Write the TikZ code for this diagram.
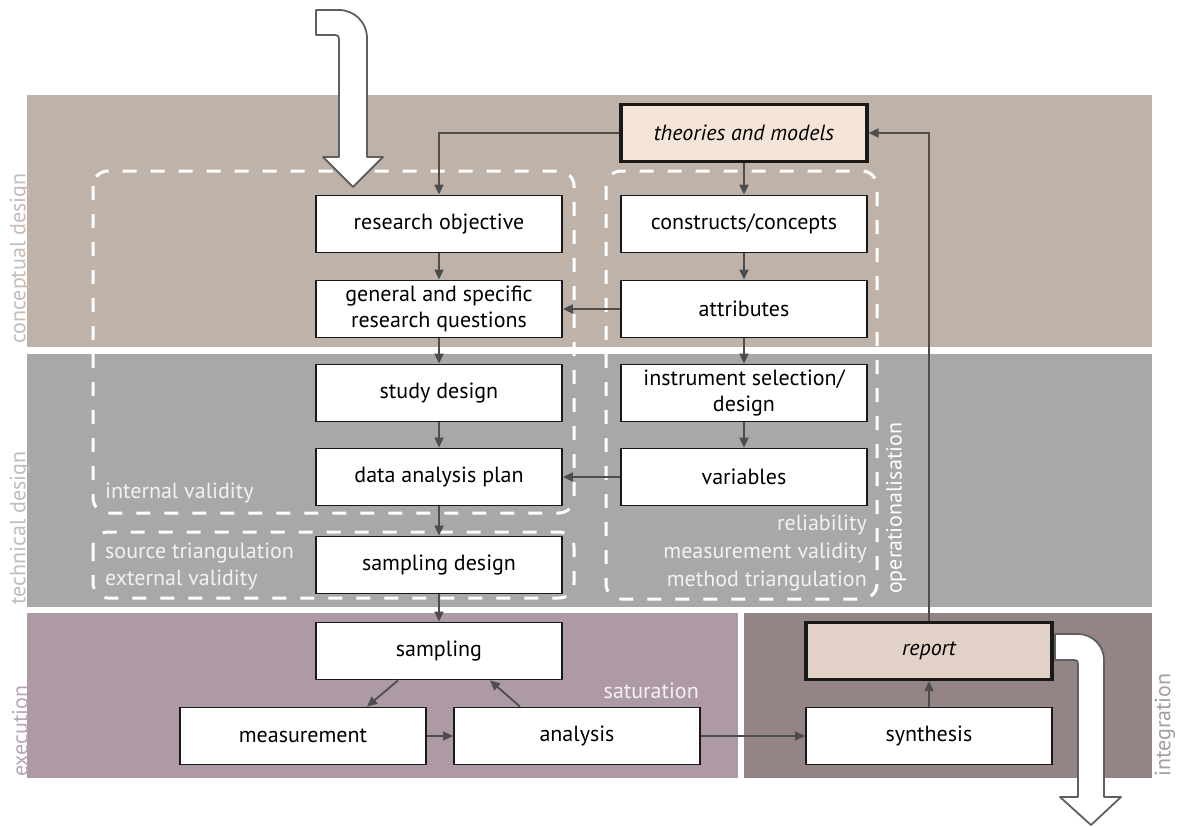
\documentclass[tikz,border=0pt]{standalone}
\usepackage{fontspec}
\setmainfont{PT Sans}
\usetikzlibrary{arrows.meta,calc,positioning}
\definecolor{bandConcept} {HTML}{BFB2A9}
\definecolor{bandTech}    {HTML}{A8A8A8}
\definecolor{bandExec}    {HTML}{AE9AA6}
\definecolor{bandInteg}   {HTML}{948483}
\definecolor{txtConcept}  {HTML}{C7BBB2}
\definecolor{txtTech}     {HTML}{BDBDBD}
\definecolor{txtExec}     {HTML}{B8A6B1}
\definecolor{txtInteg}    {HTML}{A99C9C}
\definecolor{theoryFill}  {HTML}{F5E5D8}
\definecolor{reportFill}  {HTML}{E2D1C6}
\definecolor{lineGray}    {HTML}{4D4D4D}
\definecolor{noteWhite}   {HTML}{F2F2F2}
\tikzset{
  font=\fontsize{22}{26.5}\selectfont,
  arrow/.style={-{Triangle[length=10pt,width=9pt]},draw=lineGray,line width=1.8pt},
  box/.style={rectangle,draw=black!90,line width=1.8pt,fill=white,
    minimum width=246pt,minimum height=57pt,align=center,inner sep=2pt},
  keybox/.style={box,line width=3.2pt,font=\fontsize{22}{26.5}\selectfont\itshape},
  zone/.style={draw=white,line width=3pt,dash pattern=on 14pt off 14pt,rounded corners=15pt},
  bandlabel/.style={rotate=90,anchor=west,inner sep=0pt},
  note/.style={text=noteWhite,inner sep=0pt},
  bigarrow/.style={draw=lineGray!90,line width=1.8pt,fill=white,line join=round},
}

\begin{document}
\begin{tikzpicture}[x=1pt,y=-1pt]

\useasboundingbox (0,0) rectangle (1187,827);

\fill[bandConcept] (27,95) rectangle (1152,347);
\fill[bandTech] (27,354) rectangle (1152,607);
\fill[bandExec] (27,613) rectangle (738,778);
\fill[bandInteg] (744,613) rectangle (1152,778);

\node[bandlabel,text=txtConcept] (lblConcept) at (20,344) {conceptual design};
\node[bandlabel,text=txtTech] (lblTech) at (20,605) {technical design};
\node[bandlabel,text=txtExec] (lblExec) at (20,777) {execution};
\node[bandlabel,text=txtInteg] (lblInteg) at (1165,777) {integration};

\draw[zone] (93,171) rectangle (574,513);
\draw[zone] (93,532) rectangle (574,598);
\draw[zone] (606,171) rectangle (877,599);

\node[note,anchor=west] (internal) at (105,493) {internal validity};
\node[note,anchor=west,align=left,font=\fontsize{22}{27}\selectfont] (external) at (105,566)
  {source triangulation\\external validity};
\node[note,anchor=east,align=right,font=\fontsize{22}{28}\selectfont] (reliab) at (867,553)
  {reliability\\measurement validity\\method triangulation};
\node[bandlabel,text=white] (oper) at (896,594) {operationalisation};
\node[note,anchor=east] (satur) at (699,691) {saturation};

\node[keybox,fill=theoryFill] (theories) at (744,133) {theories and models};

\node[box] (resobj) at (439,224) {research objective};
\node[box] (general) at (439,309) {general and specific\\research questions};
\node[box] (study) at (439,393) {study design};
\node[box] (dap) at (439,477) {data analysis plan};
\node[box] (sampdesign) at (439,565) {sampling design};

\node[box] (constructs) at (744,224) {constructs/concepts};
\node[box] (attributes) at (744,309) {attributes};
\node[box] (instrument) at (744,393) {instrument selection/\\design};
\node[box] (variables) at (744,477) {variables};

\node[box] (sampling) at (439,651) {sampling};
\node[box] (measurement) at (303,736) {measurement};
\node[box] (analysis) at (577,736) {analysis};

\node[box] (synthesis) at (929,736) {synthesis};
\node[keybox,fill=reportFill] (report) at (929,651) {report};

\draw[arrow] (theories.west) -| (resobj.north);
\draw[arrow] (theories.south) -- (constructs.north);
\draw[arrow] (resobj.south) -- (general.north);
\draw[arrow] (constructs.south) -- (attributes.north);
\draw[arrow] (attributes.west) -- (general.east);
\draw[arrow] (general.south) -- (study.north);
\draw[arrow] (attributes.south) -- (instrument.north);
\draw[arrow] (study.south) -- (dap.north);
\draw[arrow] (instrument.south) -- (variables.north);
\draw[arrow] (variables.west) -- (dap.east);
\draw[arrow] (dap.south) -- (sampdesign.north);
\draw[arrow] (sampdesign.south) -- (sampling.north);
\draw[arrow] ([xshift=-41pt]sampling.south) -- ([xshift=64pt]measurement.north);
\draw[arrow] ([xshift=-57pt]analysis.north) -- ([xshift=51pt]sampling.south);
\draw[arrow] (measurement.east) -- (analysis.west);
\draw[arrow] (analysis.east) -- (synthesis.west);
\draw[arrow] (synthesis.north) -- (report.south);
\draw[arrow] (report.north) |- (theories.east);

\draw[bigarrow] (316,10) -- (339,10) .. controls (354.5,10) and (367,22.5) .. (367,38)
  -- (367,157) -- (383,157) -- (353,187) -- (323,157) -- (339,157)
  -- (339,39) .. controls (339,36.5) and (338,35) .. (335.5,35) -- (316,35) -- cycle;

\draw[bigarrow] (1055,634) -- (1078,634) .. controls (1092.4,634) and (1104,645.6) .. (1104,660)
  -- (1104,797) -- (1121,797) -- (1091,825) -- (1060,797) -- (1078,797)
  -- (1078,664) .. controls (1078,661.5) and (1077,660) .. (1074.5,660) -- (1055,660) -- cycle;

\end{tikzpicture}
\end{document}
